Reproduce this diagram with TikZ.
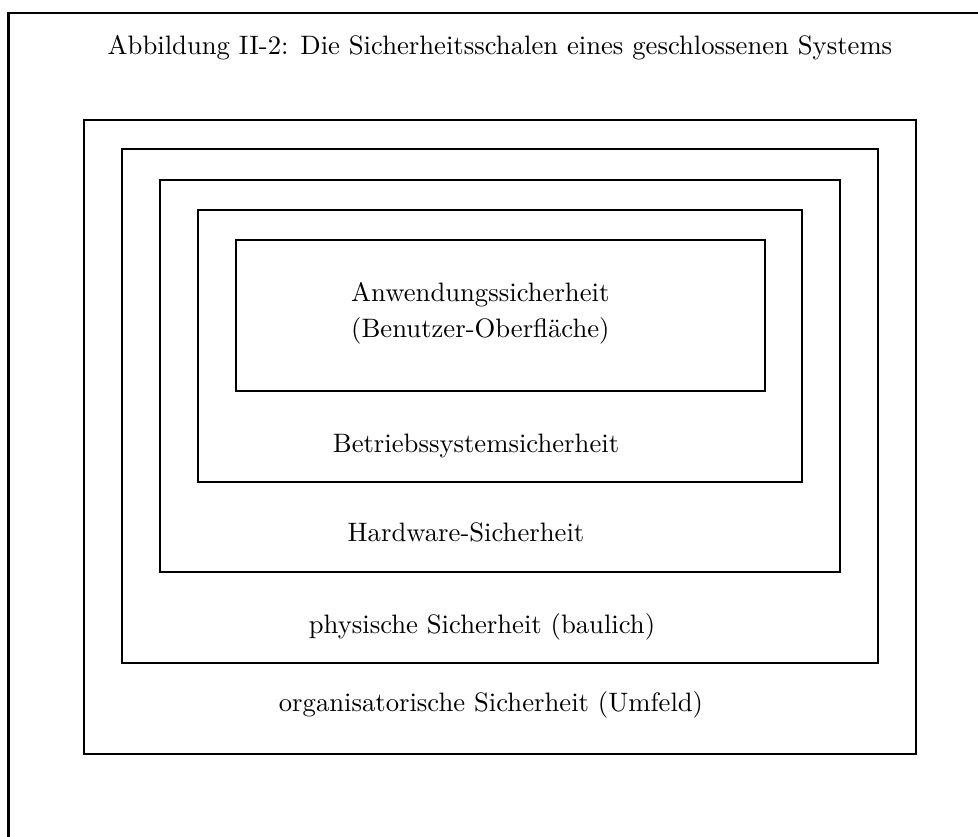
\documentclass[tikz,border=0pt]{standalone}
\usepackage{fontspec}
\begin{document}
\begin{tikzpicture}[x=0.375pt, y=-0.375pt,
  shell/.style={draw=black, line width=0.8pt},
  label/.style={anchor=base, inner sep=0pt, font=\fontsize{10}{12}\selectfont}]
  \useasboundingbox (0,0) rectangle (978,837);
  \clip (0,0) rectangle (978,837);
  % outer page frame (continues past the right and lower edges)
  \draw[shell] (8.5,860) -- (8.5,13) -- (1000,13);
  % title
  \node[label] (title) at (500,55) {Abbildung II-2: Die Sicherheitsschalen eines geschlossenen Systems};
  % nested security shells
  \draw[shell] (84,120) rectangle (916,754);
  \draw[shell] (122,149) rectangle (878,663);
  \draw[shell] (160,180) rectangle (840,572);
  \draw[shell] (198,210) rectangle (802,482);
  \draw[shell] (236,240) rectangle (765,391);
  % shell labels
  \node[label, anchor=base west] (app1) at (350.7,301.5) {Anwendungssicherheit};
  \node[label, anchor=base west] (app2) at (350.7,338) {(Benutzer-Oberfläche)};
  \node[label] (os) at (476,452) {Betriebssystemsicherheit};
  \node[label] (hw) at (466,541.5) {Hardware-Sicherheit};
  \node[label] (phys) at (482,633) {physische Sicherheit (baulich)};
  \node[label] (org) at (491,711.5) {organisatorische Sicherheit (Umfeld)};
\end{tikzpicture}
\end{document}
